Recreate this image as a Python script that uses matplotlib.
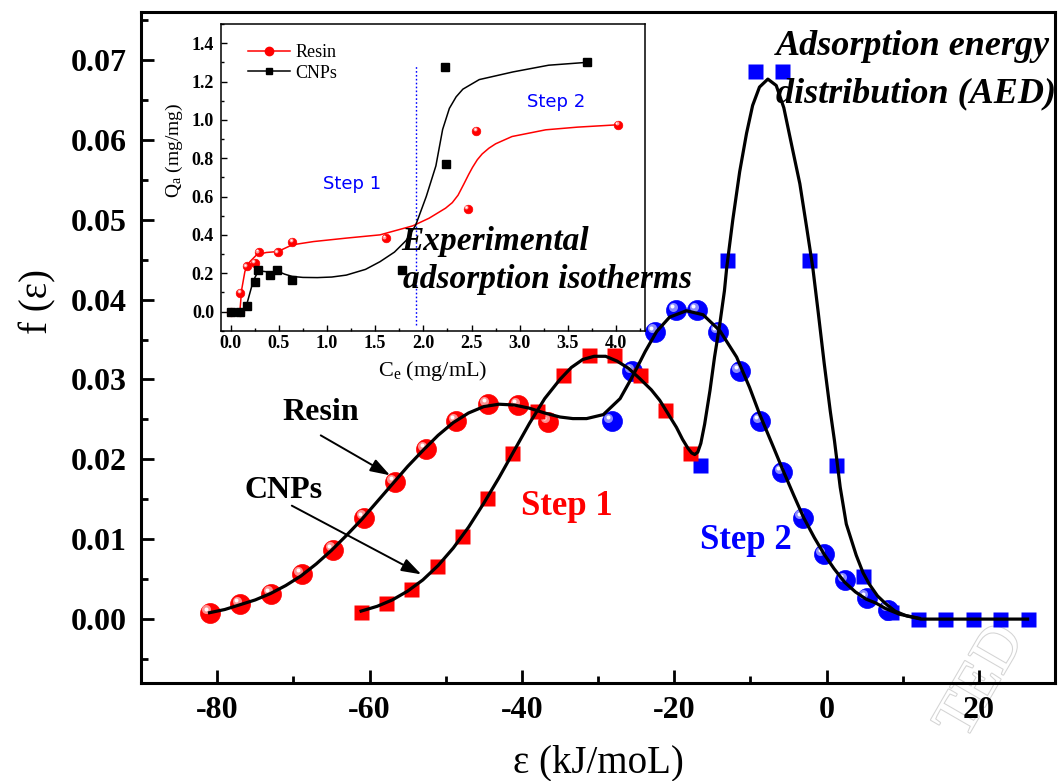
import numpy as np
import matplotlib
matplotlib.use("Agg")
import matplotlib.pyplot as plt
from matplotlib.ticker import MultipleLocator
from matplotlib.transforms import offset_copy
from matplotlib.lines import Line2D
import matplotlib.patheffects as pe

plt.rcParams['font.family'] = ['Liberation Serif', 'DejaVu Serif']
plt.rcParams['mathtext.fontset'] = 'custom'
plt.rcParams['mathtext.rm'] = 'Liberation Serif'
plt.rcParams['mathtext.it'] = 'Liberation Serif:italic'
plt.rcParams['mathtext.bf'] = 'Liberation Serif:bold'

# ---------------- main chart data (AED) ----------------
resin_s1_x = [-81.0, -77.0, -72.9, -68.9, -64.8, -60.7, -56.7, -52.6, -48.6, -44.5, -40.5, -36.5]
resin_s1_y = [0.0008, 0.0019, 0.0032, 0.0056, 0.0087, 0.0127, 0.0171, 0.0213, 0.0248, 0.0269, 0.0268, 0.0247]
resin_s2_x = [-28.2, -25.5, -22.5, -19.7, -17.0, -14.25, -11.4, -8.7, -5.8, -3.1, -0.35, 2.45, 5.3, 8.1]
resin_s2_y = [0.0248, 0.0310, 0.0360, 0.0387, 0.0387, 0.0360, 0.0310, 0.0248, 0.0184, 0.0127, 0.0081, 0.0049, 0.0027, 0.0012]
cnp_s1_x = [-61.1, -57.8, -54.5, -51.2, -47.9, -44.6, -41.3, -38.0, -34.6, -31.2, -27.9, -24.5, -21.2, -17.9]
cnp_s1_y = [0.0009, 0.0020, 0.0038, 0.0066, 0.0104, 0.0152, 0.0208, 0.0260, 0.0305, 0.0330, 0.0330, 0.0305, 0.0262, 0.0208]
cnp_s2_x = [-16.65, -13.07, -9.44, -5.86, -2.27, 1.27, 4.85, 8.5, 12.0, 15.6, 19.2, 22.8, 26.4]
cnp_s2_y = [0.0193, 0.0449, 0.0686, 0.0686, 0.0449, 0.0193, 0.0054, 0.0009, 0.0, 0.0, 0.0, 0.0, 0.0]

resin_fit_x = [-81.0, -79.0, -77.0, -75.0, -73.0, -71.0, -69.0, -67.0, -65.0, -63.0, -61.0, -59.0,
               -57.0, -55.0, -53.0, -51.0, -49.0, -47.0, -45.0, -43.0, -41.0, -39.0, -37.0, -35.0,
               -33.3, -31.5, -29.3, -27.1, -25.4, -23.8, -22.3, -20.6, -18.4, -16.2, -14.0, -11.8,
               -10.1, -8.8, -7.0, -5.7, -4.3, -3.0, -1.6, -0.3, 1.0, 2.4, 3.8, 5.2, 6.5, 7.8, 9.6, 12.2]
resin_fit_y = [0.0008, 0.0012, 0.0018, 0.0024, 0.0032, 0.0042, 0.0054, 0.0069, 0.0086, 0.0105, 0.0125, 0.0147,
               0.0169, 0.0191, 0.0211, 0.0230, 0.0246, 0.0258, 0.0266, 0.0269, 0.0268, 0.0264, 0.0258, 0.0253,
               0.0251, 0.0251, 0.0256, 0.0276, 0.0305, 0.0335, 0.0360, 0.0378, 0.0386, 0.0381, 0.0361, 0.0328,
               0.0290, 0.0257, 0.0216, 0.0186, 0.0155, 0.0127, 0.0102, 0.0081, 0.0063, 0.0046, 0.0034, 0.0025,
               0.0020, 0.0013, 0.0006, 0.0001]
cnp_fit_x = [-61.1, -59.0, -57.0, -55.0, -53.0, -51.0, -49.0, -47.0, -45.0, -43.0, -41.0, -39.0, -37.0,
             -35.0, -33.5, -32.0, -30.5, -29.0, -27.5, -26.0, -24.5, -23.0, -21.9, -20.8, -19.7, -18.9,
             -18.2, -17.7, -17.3, -16.9, -16.5, -16.0, -15.3, -14.7, -14.0, -13.4, -13.1, -12.3, -11.4,
             -10.5, -9.7, -8.8, -7.7, -6.6, -5.6, -4.5, -3.5, -2.6, -1.8, -1.1, -0.3, 0.5, 1.05, 1.8,
             2.6, 3.9, 4.8, 5.6, 6.7, 7.8, 9.0, 10.5, 12.4, 15.0, 20.0, 26.4]
cnp_fit_y = [0.0010, 0.0016, 0.0024, 0.0035, 0.0049, 0.0067, 0.0089, 0.0115, 0.0145, 0.0177, 0.0211, 0.0245, 0.0276,
             0.0300, 0.0315, 0.0325, 0.0329, 0.0329, 0.0323, 0.0314, 0.0301, 0.0287, 0.0274, 0.0257, 0.0240, 0.0225,
             0.0214, 0.0208, 0.0206, 0.0209, 0.0220, 0.0244, 0.0286, 0.0328, 0.0370, 0.0411, 0.0440, 0.0500, 0.0560,
             0.0608, 0.0643, 0.0666, 0.0676, 0.0668, 0.0640, 0.0590, 0.0545, 0.0490, 0.0440, 0.0385, 0.0320, 0.0260,
             0.0223, 0.0165, 0.0119, 0.0080, 0.0058, 0.0044, 0.0029, 0.0019, 0.0010, 0.0004, 0.0, 0.0, 0.0, 0.0]

main_xticks = [-80, -60, -40, -20, 0, 20]
main_xticklabels = ['-80', '-60', '-40', '-20', '0', '20']
main_yticks = [0.00, 0.01, 0.02, 0.03, 0.04, 0.05, 0.06, 0.07]
main_yticklabels = ['0.00', '0.01', '0.02', '0.03', '0.04', '0.05', '0.06', '0.07']

# ---------------- inset data (isotherms) ----------------
resin_iso_x = [0.0, 0.10, 0.10, 0.166, 0.25, 0.29, 0.49, 0.64, 1.61, 2.46, 2.55, 4.02]
resin_iso_y = [0.0, 0.0, 0.099, 0.235, 0.254, 0.31, 0.308, 0.365, 0.383, 0.536, 0.943, 0.974]
cnp_iso_x = [0.0, 0.10, 0.166, 0.25, 0.28, 0.41, 0.48, 0.64, 1.78, 2.23, 2.22, 3.70]
cnp_iso_y = [0.0, 0.0, 0.031, 0.153, 0.219, 0.193, 0.219, 0.162, 0.219, 0.769, 1.277, 1.301]
resin_iso_fit_x = [0.0, 0.096, 0.114, 0.148, 0.20, 0.27, 0.37, 0.49, 0.64, 0.86, 1.2, 1.55, 1.89, 2.06,
                   2.23, 2.30, 2.36, 2.42, 2.47, 2.51, 2.56, 2.61, 2.68, 2.75, 2.92, 3.27, 3.6, 4.01]
resin_iso_fit_y = [0.0, 0.0, 0.113, 0.209, 0.26, 0.296, 0.308, 0.313, 0.348, 0.365, 0.383, 0.40, 0.447, 0.487,
                   0.539, 0.568, 0.607, 0.665, 0.715, 0.752, 0.792, 0.822, 0.852, 0.875, 0.913, 0.948, 0.962, 0.974]
cnp_iso_fit_x = [0.0, 0.114, 0.166, 0.218, 0.25, 0.28, 0.33, 0.42, 0.49, 0.56, 0.64, 0.75, 0.9, 1.05, 1.2,
                 1.4, 1.55, 1.7, 1.82, 1.92, 2.03, 2.13, 2.2, 2.27, 2.34, 2.41, 2.58, 2.93, 3.3, 3.7]
cnp_iso_fit_y = [0.0, 0.0, 0.035, 0.13, 0.175, 0.205, 0.21, 0.205, 0.21, 0.195, 0.183, 0.178, 0.177, 0.18, 0.19,
                 0.22, 0.26, 0.31, 0.37, 0.45, 0.60, 0.76, 0.95, 1.06, 1.12, 1.16, 1.21, 1.25, 1.285, 1.30]
step_boundary_x = 1.92
inset_xticks = [0.0, 0.5, 1.0, 1.5, 2.0, 2.5, 3.0, 3.5, 4.0]
inset_xticklabels = ['0.0', '0.5', '1.0', '1.5', '2.0', '2.5', '3.0', '3.5', '4.0']
inset_yticks = [0.0, 0.2, 0.4, 0.6, 0.8, 1.0, 1.2, 1.4]
inset_yticklabels = ['0.0', '0.2', '0.4', '0.6', '0.8', '1.0', '1.2', '1.4']

W, H = 1058, 781
fig = plt.figure(figsize=(W / 100, H / 100), dpi=100)

# watermark (behind everything)
fig.text(982 / W, 1 - 682 / H, 'TED', rotation=60, fontsize=44, color='white',
         ha='center', va='center', zorder=-1,
         path_effects=[pe.Stroke(linewidth=1.5, foreground='#d4d4d4'), pe.Normal()])

ax = fig.add_axes([141 / W, 1 - 683 / H, (1055 - 141) / W, (683 - 12) / H])
ax.patch.set_alpha(0)


def sphere(a, x, y, color, light, ms, z):
    a.plot(x, y, ls='none', marker='o', ms=ms, color=color, mec=color, mew=0.5, zorder=z)
    t1 = offset_copy(a.transData, fig=fig, x=-ms * 0.17, y=ms * 0.17, units='points')
    a.plot(x, y, ls='none', marker='o', ms=ms * 0.45, color=light, mec='none', transform=t1, zorder=z + 0.01)
    t2 = offset_copy(a.transData, fig=fig, x=-ms * 0.2, y=ms * 0.2, units='points')
    a.plot(x, y, ls='none', marker='o', ms=ms * 0.2, color='white', mec='none', transform=t2, zorder=z + 0.02)


ax.plot(cnp_s2_x, cnp_s2_y, ls='none', marker='s', ms=10.8, color='#0000ff', mec='none', zorder=3)
sphere(ax, resin_s2_x, resin_s2_y, '#0000ff', '#8c8cff', 14.4, 3.1)
sphere(ax, resin_s1_x, resin_s1_y, '#ff0000', '#ff9090', 14.4, 3.2)
ax.plot(cnp_s1_x, cnp_s1_y, ls='none', marker='s', ms=10.8, color='#ff0000', mec='none', zorder=3.3)
ax.plot(resin_fit_x, resin_fit_y, color='black', lw=2.3, zorder=4)
ax.plot(cnp_fit_x, cnp_fit_y, color='black', lw=2.3, zorder=4)

ax.set_xlim(-90, 30)
ax.set_ylim(-0.008, 0.076)
ax.set_xticks(main_xticks, main_xticklabels, fontweight='bold')
ax.set_yticks(main_yticks, main_yticklabels, fontweight='bold')
ax.xaxis.set_minor_locator(MultipleLocator(10))
ax.yaxis.set_minor_locator(MultipleLocator(0.005))
ax.tick_params(which='major', direction='in', length=9.5, width=2, labelsize=23)
ax.tick_params(which='minor', direction='in', length=5, width=2)
ax.tick_params(axis='x', which='major', pad=9)
ax.tick_params(axis='y', which='major', pad=10)
for s in ax.spines.values():
    s.set_linewidth(2.2)

fig.text(598 / W, 1 - 772 / H, 'ε (kJ/moL)', fontsize=28, ha='center', va='baseline')
fig.text(38 / W, 1 - 302 / H, 'f (ε)', fontsize=28, rotation=90, ha='center', va='center')

# annotations in main chart
ax.text(-66.4, 0.0259, 'Resin', fontsize=23, fontweight='bold', ha='center', va='center')
ax.text(-71.3, 0.0161, 'CNPs', fontsize=23, fontweight='bold', ha='center', va='center')
arrow_kw = dict(arrowstyle='-|>,head_length=0.6,head_width=0.2', color='black', lw=1.4,
                mutation_scale=20, shrinkA=0, shrinkB=0)
ax.annotate('', xy=(-57.3, 0.0180), xytext=(-66.4, 0.0230), arrowprops=arrow_kw, zorder=5)
ax.annotate('', xy=(-53.2, 0.0056), xytext=(-70.2, 0.0142), arrowprops=arrow_kw, zorder=5)
ax.text(-34.1, 0.0141, 'Step 1', fontsize=25, fontweight='bold', color='#ff0000', ha='center', va='center')
ax.text(-10.6, 0.0098, 'Step 2', fontsize=25, fontweight='bold', color='#0000ff', ha='center', va='center')
ax.text(-6.6, 0.0706, 'Adsorption energy', fontsize=26, fontweight='bold', style='italic',
        ha='left', va='baseline', zorder=6)
ax.text(-6.6, 0.0647, 'distribution (AED)', fontsize=26, fontweight='bold', style='italic',
        ha='left', va='baseline', zorder=6)

# ---------------- inset ----------------
ins = fig.add_axes([221 / W, 1 - 330.7 / H, 424 / W, 306.7 / H])
ins.set_zorder(5)
ins.set_facecolor('white')
ins.plot(resin_iso_fit_x, resin_iso_fit_y, color='#ff0000', lw=1.1, zorder=2)
ins.plot(cnp_iso_fit_x, cnp_iso_fit_y, color='black', lw=1.1, zorder=2)
sphere(ins, resin_iso_x, resin_iso_y, '#ff0000', '#ff9a9a', 6.2, 3)
ins.plot(cnp_iso_x, cnp_iso_y, ls='none', marker='s', ms=5.2, color='black', zorder=3.5)
ins.plot([step_boundary_x, step_boundary_x], [-0.07, 1.28], color='#0000ff', lw=1.0,
         ls=(0, (1.2, 1.6)), zorder=1)
ins.set_xlim(-0.1, 4.3)
ins.set_ylim(-0.1, 1.5)
ins.set_xticks(inset_xticks, inset_xticklabels, fontweight='bold')
ins.set_yticks(inset_yticks, inset_yticklabels, fontweight='bold')
ins.xaxis.set_minor_locator(MultipleLocator(0.25))
ins.yaxis.set_minor_locator(MultipleLocator(0.1))
ins.tick_params(which='major', direction='in', length=4, width=1, labelsize=13)
ins.tick_params(which='minor', direction='in', length=2.2, width=1)
ins.tick_params(axis='x', which='major', pad=3)
ins.tick_params(axis='y', which='major', pad=5)
for s in ins.spines.values():
    s.set_linewidth(1.1)
ins.text(1.26, 0.666, 'Step 1', fontsize=13, color='#0000ff', family='DejaVu Sans', ha='center', va='center')
ins.text(3.38, 1.095, 'Step 2', fontsize=13, color='#0000ff', family='DejaVu Sans', ha='center', va='center')
handles = [Line2D([], [], color='#ff0000', marker='o', ms=6, lw=1.1),
           Line2D([], [], color='black', marker='s', ms=5, lw=1.1)]
ins.legend(handles, ['Resin', 'CNPs'], loc='upper left', bbox_to_anchor=(0.064, 0.935),
           frameon=False, fontsize=13, handlelength=2.3, handletextpad=0.3,
           labelspacing=0.2, borderaxespad=0, borderpad=0)
fig.text(433 / W, 1 - 376 / H, r'C$_\mathrm{e}$ (mg/mL)', fontsize=16, ha='center', va='baseline', zorder=7)
fig.text(174 / W, 1 - 150 / H, r'Q$_\mathrm{a}$ (mg/mg)', fontsize=14, rotation=90,
         ha='center', va='center', zorder=7)

# overlay text spanning inset
fig.text(401.7 / W, 1 - 250 / H, 'Experimental', fontsize=24, fontweight='bold', style='italic',
         ha='left', va='baseline', zorder=8)
fig.text(402.7 / W, 1 - 288 / H, 'adsorption isotherms', fontsize=24, fontweight='bold', style='italic',
         ha='left', va='baseline', zorder=8)

fig.savefig('out.png', dpi=100)
